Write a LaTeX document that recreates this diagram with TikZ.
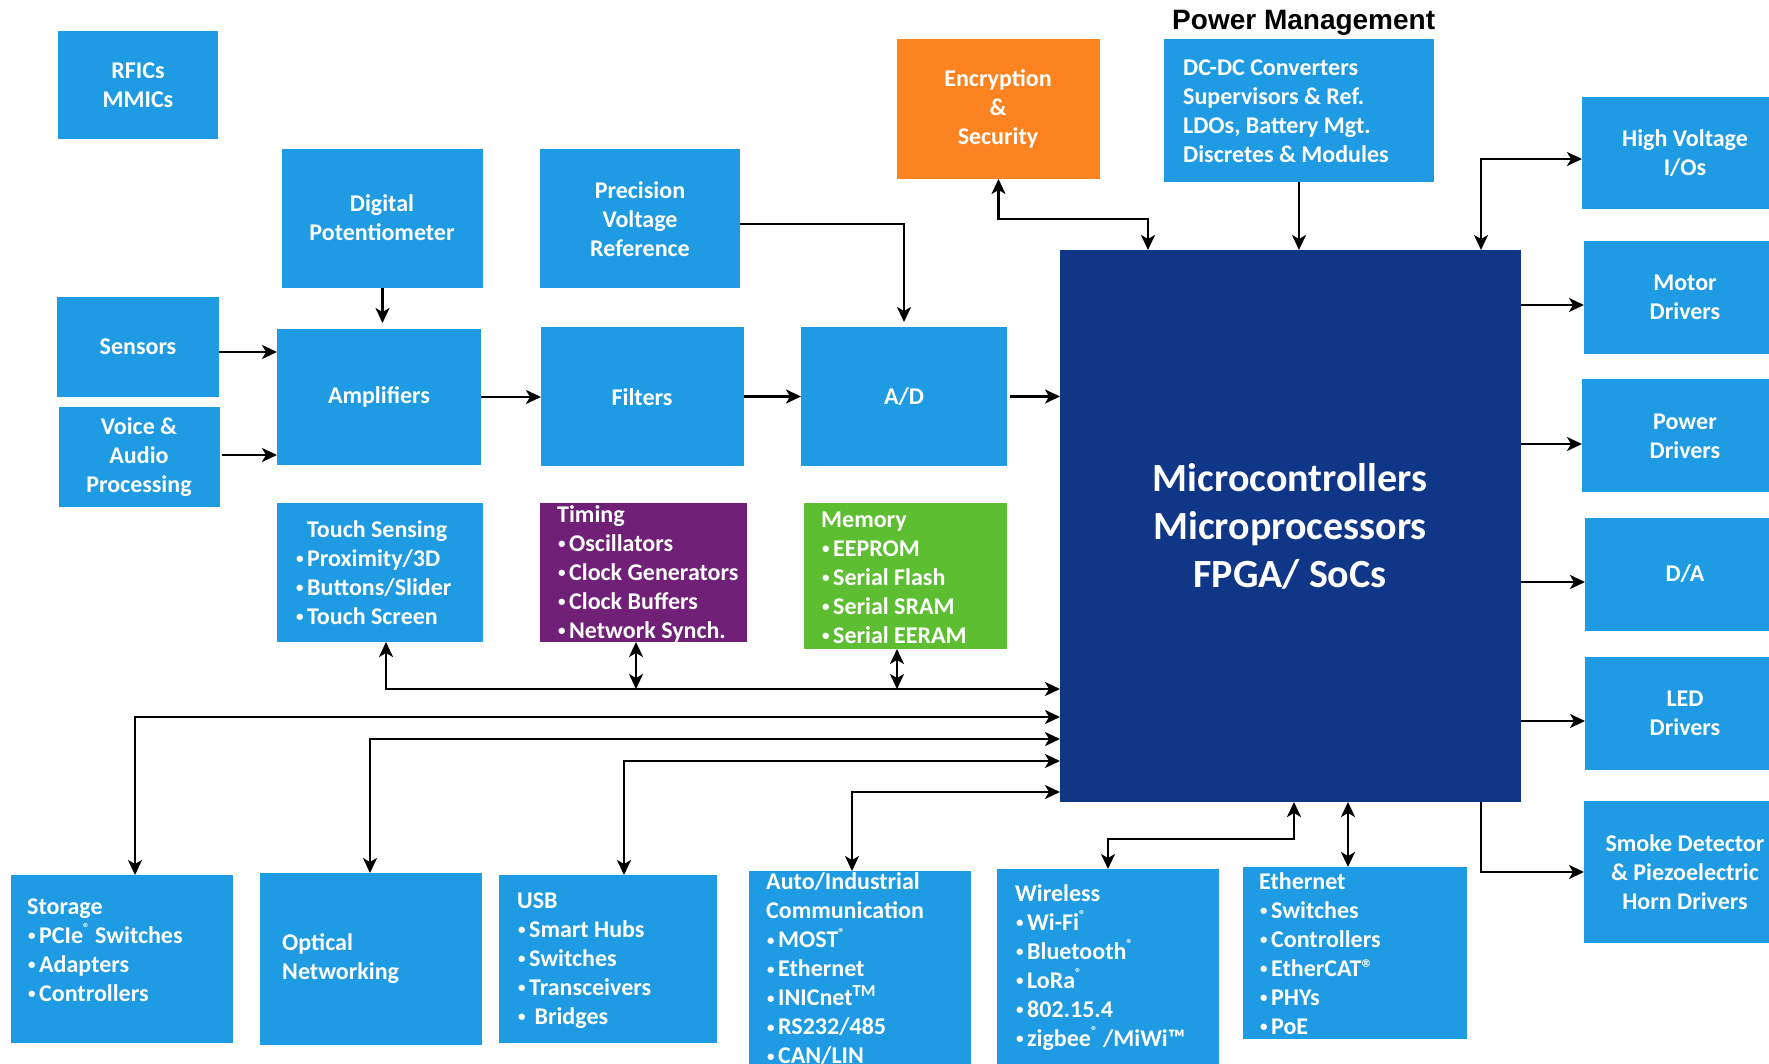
\documentclass[tikz,border=0pt]{standalone}
\usepackage{fontspec}
\setmainfont{Carlito}
\newfontfamily\headfont{Liberation Sans}
\usetikzlibrary{arrows.meta}

\definecolor{boxblue}{HTML}{1E9BE2}
\definecolor{mcublue}{HTML}{103687}
\definecolor{secorange}{HTML}{FD8220}
\definecolor{timpurple}{HTML}{702076}
\definecolor{memgreen}{HTML}{5EBE32}

% small bullet with a gap, and a small raised registered sign
\newcommand\itembul{\hspace{1pt}\raisebox{2.5pt}{\fontsize{15}{15}\selectfont\textbullet}\hspace{3.5pt}}
\newcommand\regmark{\raisebox{0.45em}{\fontsize{13}{13}\selectfont ®}}

% filled block given by its corners: name, x1, y1, x2, y2, extra style
\newcommand\blockat[6]{%
  \node[blk,#6,minimum width={(#4-#2)*1pt},minimum height={(#5-#3)*1pt}]
    (#1) at ({(#2+#4)/2},{(#3+#5)/2}) {};}

\begin{document}
\begin{tikzpicture}[x=1pt,y=-1pt,
  blk/.style={rectangle, inner sep=0pt, outer sep=0pt, fill=boxblue},
  txt/.style={text=white, font=\bfseries\fontsize{24}{29}\selectfont,
              inner sep=0pt, align=center},
  ltxt/.style={txt, align=left, anchor=west},
  bigtxt/.style={txt, font=\bfseries\fontsize{40}{48}\selectfont},
  tip/.tip={Stealth[length=15pt,width=14pt,inset=4pt]},
  link/.style={line width=2.2pt, -tip},
  link2/.style={line width=2.2pt, tip-tip},
]
\useasboundingbox (0,0) rectangle (1769,1064);
\clip (0,0) rectangle (1769,1064);
\fill[white] (0,0) rectangle (1769,1064);

% ---- blocks ----
\blockat{rfic}{58}{31}{218}{139}{}
\blockat{digpot}{282}{149}{483}{288}{}
\blockat{pvr}{540}{149}{740}{288}{}
\blockat{enc}{897}{39}{1100}{179}{fill=secorange}
\blockat{dcdc}{1164}{39}{1434}{182}{}
\blockat{sensors}{57}{297}{219}{397}{}
\blockat{voice}{59}{407}{220}{507}{}
\blockat{amp}{277}{329}{481}{465}{}
\blockat{filters}{541}{327}{744}{466}{}
\blockat{ad}{801}{327}{1007}{466}{}
\blockat{mcu}{1060}{250}{1521}{802}{fill=mcublue}
\blockat{touch}{277}{503}{483}{642}{}
\blockat{timing}{540}{503}{747}{642}{fill=timpurple}
\blockat{memory}{804}{503}{1007}{649}{fill=memgreen}
\blockat{storage}{11}{875}{233}{1043}{}
\blockat{optical}{260}{873}{482}{1045}{}
\blockat{usb}{499}{875}{717}{1043}{}
\blockat{autoc}{749}{871}{971}{1100}{}
\blockat{wireless}{997}{869}{1219}{1100}{}
\blockat{ethernet}{1243}{867}{1467}{1039}{}
\blockat{hv}{1582}{97}{1789}{209}{}
\blockat{motor}{1584}{241}{1789}{354}{}
\blockat{power}{1582}{379}{1789}{492}{}
\blockat{da}{1585}{518}{1789}{631}{}
\blockat{led}{1585}{657}{1789}{770}{}
\blockat{smoke}{1584}{801}{1789}{943}{}

% ---- texts ----
\node[txt] (rficT) at (138,85) {RFICs\\MMICs};
\node[txt] (digpotT) at (382,218) {Digital\\Potentiometer};
\node[txt] (pvrT) at (640,219) {Precision\\Voltage\\Reference};
\node[txt] (encT) at (998,109) {Encryption\\\&\\Security};
\node[anchor=base west, inner sep=0pt,
      font=\headfont\bfseries\fontsize{28}{34}\selectfont] (pmT) at (1172,30) {Power Management};
\node[ltxt] (dcdcT) at (1183,111.5) {DC-DC Converters\\Supervisors \& Ref.\\LDOs, Battery Mgt.\\Discretes \& Modules};
\node[txt] (sensorsT) at (138,347) {Sensors};
\node[txt] (voiceT) at (139,457) {Voice \&\\Audio\\Processing};
\node[txt] (ampT) at (379,397) {Amplifiers};
\node[txt] (filtersT) at (642,397) {Filters};
\node[txt] (adT) at (904,397) {A/D};
\node[bigtxt] (mcuT) at (1290,526) {Microcontrollers\\Microprocessors\\FPGA/ SoCs};
\node[ltxt] (touchT) at (295,572.5) {\phantom{\itembul}Touch Sensing\\\itembul Proximity/3D\\\itembul Buttons/Slider\\\itembul Touch Screen};
\node[ltxt] (timingT) at (557,573.5) {Timing\\\itembul Oscillators\\\itembul Clock Generators\\\itembul Clock Buffers\\\itembul Network Synch.};
\node[ltxt] (memoryT) at (821,577.5) {Memory\\\itembul EEPROM\\\itembul Serial Flash\\\itembul Serial SRAM\\\itembul Serial EERAM};
\node[ltxt] (storageT) at (27,950) {Storage\\\itembul PCIe\regmark{} Switches\\\itembul Adapters\\\itembul Controllers};
\node[ltxt] (opticalT) at (282,958.5) {Optical\\Networking};
\node[ltxt] (usbT) at (517,960.5) {USB\\\itembul Smart Hubs\\\itembul Switches\\\itembul Transceivers\\\itembul\ Bridges};
\node[ltxt] (autoT) at (766,969) {Auto/Industrial\\Communication\\\itembul MOST\regmark\\\itembul Ethernet\\\itembul INICnet\textsuperscript{TM}\\\itembul RS232/485\\\itembul CAN/LIN};
\node[ltxt] (wirelessT) at (1015,967.5) {Wireless\\\itembul Wi-Fi\regmark\\\itembul Bluetooth\regmark\\\itembul LoRa\regmark\\\itembul 802.15.4\\\itembul zigbee\regmark{} /MiWi™};
\node[ltxt] (ethernetT) at (1259,953.5) {Ethernet\\\itembul Switches\\\itembul Controllers\\\itembul EtherCAT®\\\itembul PHYs\\\itembul PoE};
\node[txt] (hvT) at (1685,153) {High Voltage\\I/Os};
\node[txt] (motorT) at (1685,297) {Motor\\Drivers};
\node[txt] (powerT) at (1685,436) {Power\\Drivers};
\node[txt] (daT) at (1685,574) {D/A};
\node[txt] (ledT) at (1685,713) {LED\\Drivers};
\node[txt] (smokeT) at (1685,872) {Smoke Detector\\\& Piezoelectric\\Horn Drivers};

% ---- signal chain ----
\draw[link, shorten >=6pt] (digpot.south) -- (digpot.south |- amp.north);
\draw[link] ([yshift=-5pt]sensors.east) -- ([yshift=-5pt]sensors.east -| amp.west);
\draw[link] ([xshift=2pt,yshift=2pt]voice.east) -- ([yshift=2pt]voice.east -| amp.west);
\draw[link] (amp.east) -- (amp.east -| filters.west);
\draw[link] (filters.east) -- (filters.east -| ad.west);
\draw[link] ([xshift=3pt]ad.east) -- (ad.east -| mcu.west);
\draw[link, shorten >=5pt] ([yshift=-5.5pt]pvr.east) -| (ad.north);

% ---- top side of the controller ----
\draw[link2] (enc.south) |- ([xshift=88pt,yshift=31pt]mcu.north west) -- ([xshift=88pt]mcu.north west);
\draw[link] (dcdc.south) -- (dcdc.south |- mcu.north);
\draw[link2] ([xshift=-40pt]mcu.north east) |- ([yshift=-6pt]hv.west);

% ---- right side outputs ----
\draw[link] ([yshift=-7.5pt]motor.west -| mcu.east) -- ([yshift=-7.5pt]motor.west);
\draw[link] ([yshift=-8.5pt]power.west -| mcu.east) -- ([yshift=-8.5pt]power.west);
\draw[link] ([yshift=-7.5pt]da.west -| mcu.east) -- ([yshift=-7.5pt]da.west);
\draw[link] ([yshift=-7.5pt]led.west -| mcu.east) -- ([yshift=-7.5pt]led.west);
\draw[link] ([xshift=-40pt]mcu.south east) |- (smoke.west);

% ---- buses on the left and below ----
\draw[link2] ([xshift=6pt]touch.south) |- ([yshift=-163pt]mcu.west);
\draw[link2] ([xshift=-7.5pt]timing.south) -- ++(0,47);
\draw[link2] ([xshift=-8.5pt]memory.south) -- ++(0,40);
\draw[link2] ([xshift=13pt]storage.north) |- ([yshift=-191pt]mcu.west);
\draw[link2] ([xshift=-1pt]optical.north) |- ([yshift=-213pt]mcu.west);
\draw[link2] ([xshift=16pt]usb.north) |- ([yshift=-235pt]mcu.west);
\draw[link2] ([xshift=-8pt]autoc.north) |- ([yshift=-266pt]mcu.west);
\draw[link2] ([xshift=3.5pt]mcu.south) -- ++(0,37) -| (wireless.north);
\draw[link2] ([xshift=-7pt]ethernet.north) -- ([xshift=-7pt]ethernet.north |- mcu.south);
\end{tikzpicture}
\end{document}
